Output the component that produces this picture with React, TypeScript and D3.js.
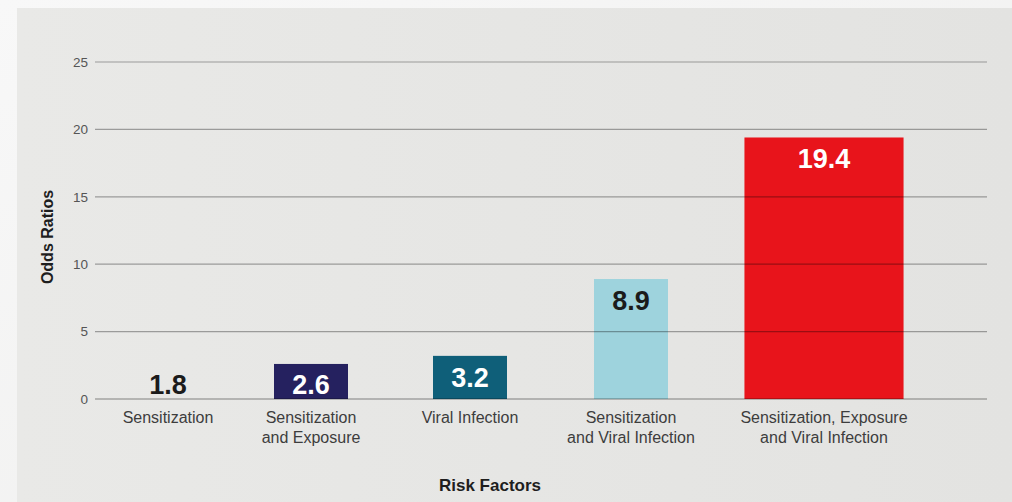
import React from "react";
import * as d3 from "d3";

const categories: string[][] = [
  ["Sensitization"],
  ["Sensitization", "and Exposure"],
  ["Viral Infection"],
  ["Sensitization", "and Viral Infection"],
  ["Sensitization, Exposure", "and Viral Infection"],
];
const oddsRatios: number[] = [1.8, 2.6, 3.2, 8.9, 19.4];
const valueLabels: string[] = ["1.8", "2.6", "3.2", "8.9", "19.4"];
const yTicks: number[] = [0, 5, 10, 15, 20, 25];

// layout / style (not data)
const barColors = ["none", "#25215f", "#0f5f79", "#9ed3dd", "#e8141b"];
const labelColors = ["#1b1b1b", "#ffffff", "#ffffff", "#1b1b1b", "#ffffff"];
const slotWeights = [144, 142, 176, 146, 240];
const barWidthFactor = [1, 1, 1, 1, 2.15];

const W = 1012;
const H = 502;
const gridLeft = 95;
const gridRight = 987;
const slotStart = 96;
const slotEnd = 944;
const baseBarWidth = 74;

export default function App() {
  const y = d3.scaleLinear().domain([0, 25]).range([399, 62]);
  const cum = d3.cumsum(slotWeights);
  const total = cum[cum.length - 1];
  const xs = d3.scaleLinear().domain([0, total]).range([slotStart, slotEnd]);
  const centers = slotWeights.map((w, i) => xs(cum[i] - w / 2));
  const font = "'Liberation Sans', Arial, Helvetica, sans-serif";

  return (
    <svg
      width={W}
      height={H}
      style={{ position: "absolute", left: 0, top: 0 }}
      fontFamily={font}
    >
      <defs>
        <linearGradient id="outer" x1="0" y1="0" x2="1" y2="1">
          <stop offset="0" stopColor="#f8f8f8" />
          <stop offset="1" stopColor="#eeeeed" />
        </linearGradient>
        <linearGradient id="panel" x1="0" y1="0" x2="1" y2="0">
          <stop offset="0" stopColor="#e9e9e7" />
          <stop offset="1" stopColor="#e3e3e1" />
        </linearGradient>
      </defs>
      <rect x={0} y={0} width={W} height={H} fill="url(#outer)" />
      <rect x={17} y={8} width={W - 17} height={H - 8} fill="url(#panel)" />

      {/* bars */}
      {oddsRatios.map((v, i) => {
        const bw = baseBarWidth * barWidthFactor[i];
        return (
          <rect
            key={"b" + i}
            x={centers[i] - bw / 2}
            y={y(v)}
            width={bw}
            height={y(0) - y(v)}
            fill={barColors[i]}
          />
        );
      })}

      {/* gridlines */}
      {yTicks.map((t) => (
        <line
          key={"g" + t}
          x1={gridLeft}
          x2={gridRight}
          y1={y(t)}
          y2={y(t)}
          stroke="#000"
          strokeOpacity={t === 0 ? 0.45 : 0.33}
          strokeWidth={1.2}
        />
      ))}

      {/* tick labels */}
      {yTicks.map((t) => (
        <text
          key={"t" + t}
          x={88}
          y={y(t)}
          dy="0.35em"
          textAnchor="end"
          fontSize={13.5}
          fill="#555"
        >
          {t}
        </text>
      ))}

      {/* value labels */}
      {oddsRatios.map((v, i) => (
        <text
          key={"v" + i}
          x={centers[i]}
          y={Math.min(y(v) + 31, y(0) - 5)}
          textAnchor="middle"
          fontSize={27}
          fontWeight="bold"
          fill={labelColors[i]}
        >
          {valueLabels[i]}
        </text>
      ))}

      {/* category labels */}
      {categories.map((lines, i) => (
        <text
          key={"c" + i}
          x={centers[i]}
          y={423}
          textAnchor="middle"
          fontSize={16}
          fill="#3d3d3d"
        >
          {lines.map((l, j) => (
            <tspan key={j} x={centers[i]} dy={j === 0 ? 0 : 19.5}>
              {l}
            </tspan>
          ))}
        </text>
      ))}

      {/* axis titles */}
      <text
        x={490}
        y={491}
        textAnchor="middle"
        fontSize={17}
        fontWeight="bold"
        fill="#1e1e1e"
      >
        Risk Factors
      </text>
      <text
        transform={`translate(53, ${237}) rotate(-90)`}
        textAnchor="middle"
        fontSize={16}
        fontWeight="bold"
        fill="#1e1e1e"
      >
        Odds Ratios
      </text>
    </svg>
  );
}
